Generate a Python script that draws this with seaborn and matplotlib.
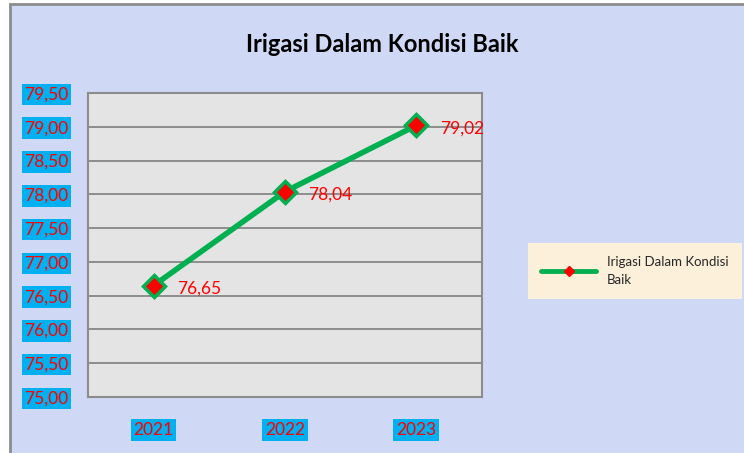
import matplotlib
matplotlib.use("Agg")
import matplotlib.pyplot as plt
import seaborn as sns
import pandas as pd
from matplotlib.patches import Rectangle
from matplotlib.lines import Line2D
from matplotlib.ticker import FuncFormatter

# -------------------------
# Data
# -------------------------
years = ["2021", "2022", "2023"]
values = [76.65, 78.04, 79.02]
series_name = "Irigasi Dalam Kondisi Baik"

df = pd.DataFrame({"Tahun": years, "Nilai": values})

# -------------------------
# Plotting
# -------------------------
sns.set_style("white")
plt.rcParams['font.family'] = ['Lato', 'DejaVu Sans']

fig = plt.figure(figsize=(7.44, 4.53), dpi=100, facecolor="white")

# outer chart area with border
bg = Rectangle((10 / 744, -0.05), 1.1, 1 - 4 / 453 + 0.05, transform=fig.transFigure,
               facecolor="#cfd8f4", edgecolor="#8c8c8c", linewidth=2, zorder=-10)
fig.patches.append(bg)

ax = fig.add_axes([88 / 744, 56 / 453, 394 / 744, 304 / 453])
ax.set_facecolor("#e4e4e4")

sns.lineplot(data=df, x="Tahun", y="Nilai", ax=ax, color="#00b050", linewidth=4,
             marker="D", markersize=11, markerfacecolor="red",
             markeredgecolor="#00b050", markeredgewidth=2.5, zorder=5)

ax.set_xlim(-0.5, 2.5)
ax.set_ylim(75, 79.5)
ax.set_yticks([75 + 0.5 * i for i in range(10)])
ax.yaxis.set_major_formatter(FuncFormatter(lambda v, p: f"{v:.2f}".replace(".", ",")))
ax.grid(axis="y", color="#7f7f7f", linewidth=1.2)
ax.set_axisbelow(True)
for s in ax.spines.values():
    s.set_color("#8c8c8c")
    s.set_linewidth(1.5)

ax.set_xlabel("")
ax.set_ylabel("")
ax.tick_params(axis="both", length=0, labelsize=12.5, labelcolor="red")
ax.tick_params(axis="y", pad=14)
ax.tick_params(axis="x", pad=18)
for lbl in ax.get_xticklabels() + ax.get_yticklabels():
    lbl.set_bbox(dict(facecolor="#00b0f0", edgecolor="none", pad=2))

# data labels
for i, v in enumerate(values):
    ax.annotate(f"{v:.2f}".replace(".", ","), (i, v), xytext=(17, -2),
                textcoords="offset points", color="red", fontsize=12.5,
                va="center", ha="left")

fig.text(382 / 744, 1 - 45 / 453, series_name, ha="center", va="center",
         fontsize=17, fontweight="bold", color="black")

handle = Line2D([], [], color="#00b050", linewidth=3.5, marker="D", markersize=5,
                markerfacecolor="red", markeredgecolor="red")
leg = fig.legend([handle], ["Irigasi Dalam Kondisi\nBaik"], loc="center left",
                 bbox_to_anchor=(521 / 744, 1 - 271 / 453), frameon=True,
                 fontsize=9.5, handlelength=4.2, borderpad=1.0, fancybox=False)
leg.get_texts()[0].set_linespacing(1.6)
leg.get_frame().set_facecolor("#fdf0da")
leg.get_frame().set_edgecolor("none")
leg.get_frame().set_alpha(1)

plt.savefig("out.png", dpi=100, facecolor="white")
